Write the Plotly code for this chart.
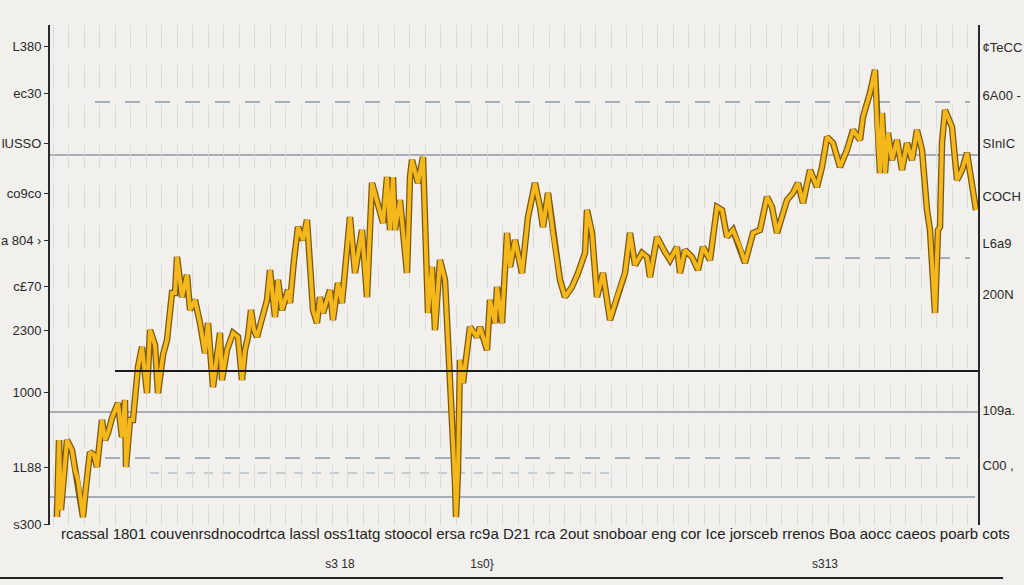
import plotly.graph_objects as go

# series (x position, level)
x_pos = [7, 9, 11, 14, 17, 22, 25, 28, 33, 36, 40, 44, 47, 52, 55, 58, 62, 68, 72, 75, 76, 80, 83, 88, 92, 97,
         100, 105, 108, 111, 113, 117, 122, 125, 127, 132, 137, 140, 145, 150, 155, 158, 163, 170, 172, 177, 183,
         188, 192, 195, 198, 201, 204, 207, 212, 217, 220, 225, 228, 232, 238, 240, 244, 248, 253, 257, 263, 267,
         270, 273, 280, 283, 288, 292, 300, 305, 312, 317, 322, 328, 333, 337, 340, 343, 345, 350, 357, 360, 362,
         368, 373, 378, 382, 385, 390, 395, 400, 405, 406, 408, 410, 413, 420, 427, 430, 437, 440, 445, 447, 452,
         457, 460, 465, 472, 478, 485, 490, 493, 498, 503, 510, 515, 522, 528, 535, 537, 542, 547, 553, 560, 567,
         575, 580, 585, 592, 597, 600, 607, 615, 620, 627, 630, 635, 642, 648, 653, 660, 667, 672, 677, 683, 690,
         695, 703, 710, 717, 722, 727, 737, 743, 748, 753, 760, 767, 772, 777, 783, 790, 797, 803, 810, 813, 820,
         825, 827, 830, 832, 835, 838, 842, 847, 852, 857, 862, 867, 872, 877, 880, 885, 888, 890, 892, 895, 902,
         907, 912, 917, 922, 926, 928]
level = [8, 85, 15, 55, 85, 75, 55, 45, 8, 38, 73, 70, 58, 105, 85, 92, 107, 122, 88, 125, 58, 105, 105, 158,
         178, 132, 195, 180, 132, 155, 170, 185, 232, 232, 268, 228, 250, 215, 225, 202, 172, 202, 138, 192, 145,
         175, 192, 188, 145, 175, 188, 215, 195, 188, 208, 225, 255, 208, 245, 215, 235, 222, 265, 298, 285, 305,
         215, 202, 228, 212, 235, 205, 242, 222, 308, 252, 295, 228, 342, 318, 302, 348, 295, 348, 295, 325, 252,
         348, 365, 342, 368, 212, 258, 195, 265, 245, 152, 42, 8, 55, 165, 142, 198, 188, 198, 175, 225, 202, 238,
         202, 292, 258, 285, 252, 308, 342, 318, 298, 332, 292, 245, 228, 238, 252, 272, 315, 292, 228, 252, 205,
         228, 252, 292, 260, 272, 268, 248, 288, 273, 265, 278, 252, 275, 268, 255, 278, 265, 318, 315, 288, 295,
         278, 262, 292, 295, 328, 318, 292, 325, 332, 342, 322, 355, 338, 358, 388, 382, 358, 375, 395, 385, 408,
         432, 455, 402, 352, 412, 352, 392, 365, 385, 355, 382, 365, 395, 375, 315, 295, 212, 295, 298, 382, 415,
         398, 345, 355, 372, 340, 315]

left_vals = [479, 432, 382, 332, 285, 239, 195, 133, 58, 1]
left_text = ["L380", "ec30", "lUSSO", "co9co", "a 804 ›", "c£70", "2300", "1000", "1L88", "s300"]
right_vals = [478, 430, 382, 329, 282, 231, 115, 60]
right_text = ["¢TeCC", "6A00 -", "SInIC", "COCH", "L6a9", "200N", "109a.", "C00 ,"]
bottom_vals = [290, 432, 775]
bottom_text = ["s3 18", "1s0}", "s313"]
row_text = ("rcassal 1801 couvenrsdnocodrtca lassl oss1tatg stoocol ersa rc9a D21 rca 2out "
            "snoboar eng cor Ice jorsceb rrenos Boa aocc caeos poarb cots")

bg = "#f1f0ec"
grid_blue = "#8c97a8"
fnt = "Liberation Sans"

fig = go.Figure()
# dark edge underneath, gold line on the overlaying axis so it sits on top
fig.add_trace(go.Scatter(x=x_pos, y=level, mode="lines",
                         line=dict(color="#7a5810", width=6.5), hoverinfo="skip"))
fig.add_trace(go.Scatter(x=x_pos, y=level, mode="lines", yaxis="y2",
                         line=dict(color="#f4b81c", width=4)))

shapes = []
# horizontal guide lines
for yv, x0, x1, dash, col in [(370, 0, 928, "solid", grid_blue), (113, 0, 928, "solid", grid_blue),
                              (28, 0, 925, "solid", grid_blue), (423, 45, 920, "longdash", grid_blue),
                              (67, 55, 920, "longdash", grid_blue), (267, 765, 920, "longdash", grid_blue),
                              (52, 100, 560, "dash", "#b9c0ca")]:
    shapes.append(dict(type="line", xref="x", yref="y", x0=x0, x1=x1, y0=yv, y1=yv,
                       line=dict(color=col, width=1.5, dash=dash), layer="below"))
shapes.append(dict(type="line", xref="x", yref="y", x0=65, x1=928, y0=154, y1=154,
                   line=dict(color="#1a1a1a", width=2)))
shapes.append(dict(type="line", xref="paper", yref="paper", x0=-0.054, x1=1.027, y0=-0.106, y1=-0.106,
                   line=dict(color="#222222", width=2)))

fig.update_layout(
    width=1024, height=585,
    margin=dict(l=50, r=46, t=25, b=60),
    paper_bgcolor=bg, plot_bgcolor=bg,
    showlegend=False,
    font=dict(family=fnt, size=13, color="#2a2a2a"),
    shapes=shapes,
    xaxis=dict(range=[0, 928], showline=False, zeroline=False, showgrid=False, automargin=False,
               tickmode="array", tickvals=bottom_vals, ticktext=bottom_text, ticks="",
               ticklabelstandoff=30, tickfont=dict(size=12),
               minor=dict(dtick=15.5, tick0=3, showgrid=True, gridcolor="#dadad8",
                          gridwidth=1.3, griddash="24px,16px")),
    yaxis=dict(range=[0, 500], showgrid=False, zeroline=False, showline=True, automargin=False,
               linecolor="#2a2a2a", linewidth=2, ticks="outside", ticklen=4,
               tickcolor="#2a2a2a", tickmode="array", tickvals=left_vals, ticktext=left_text),
    yaxis2=dict(range=[0, 500], overlaying="y", side="right", showgrid=False, zeroline=False,
                showline=True, linecolor="#2a2a2a", linewidth=2, ticks="", tickmode="array",
                automargin=False, tickvals=right_vals, ticktext=right_text),
    annotations=[dict(text=row_text, xref="paper", yref="paper", x=0.523, y=0.004,
                      xanchor="center", yanchor="top", showarrow=False,
                      font=dict(family=fnt, size=15, color="#222222"))],
)

fig.write_html("out.html", config={"displayModeBar": False},
               post_script="document.body.style.margin='0';document.body.style.background='#f1f0ec';")
